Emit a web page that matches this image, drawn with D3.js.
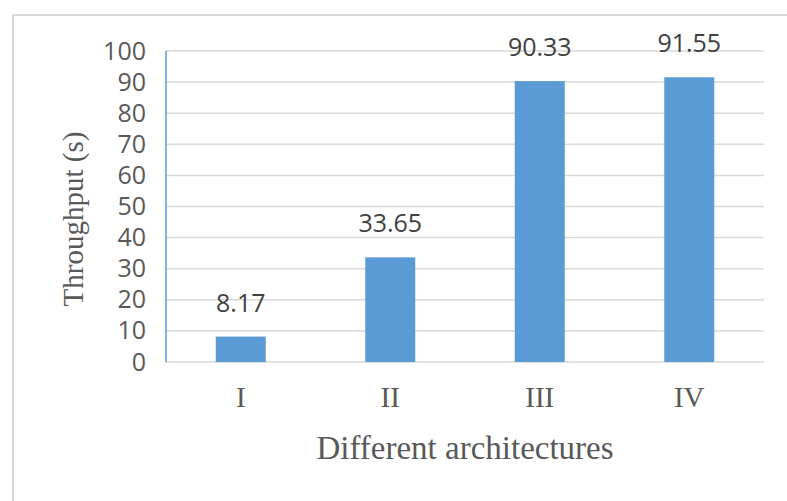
<!DOCTYPE html>
<html>
<head>
<meta charset="utf-8">
<script src="https://cdn.jsdelivr.net/npm/d3@7/dist/d3.min.js"></script>
<style>
  html, body { margin: 0; padding: 0; background: #fff; }
  svg { display: block; }
</style>
</head>
<body>
<svg id="chart" width="787" height="501"></svg>
<script>
// Throughput per architecture
const categories = ["I", "II", "III", "IV"];
const throughput = [8.17, 33.65, 90.33, 91.55];
const yTicks = [0, 10, 20, 30, 40, 50, 60, 70, 80, 90, 100];

const svg = d3.select("#chart");
const W = 787, H = 501;
const plot = { left: 166, right: 764, top: 51, bottom: 362 };

// outer chart border
svg.append("rect")
  .attr("x", 13).attr("y", 15)
  .attr("width", W + 20).attr("height", H + 20)
  .attr("fill", "#fff")
  .attr("stroke", "#d9d9d9").attr("stroke-width", 2);

const x = d3.scaleBand()
  .domain(categories)
  .range([plot.left, plot.right])
  .paddingInner(0.6656)
  .paddingOuter(0.3328);

const y = d3.scaleLinear()
  .domain([0, 100])
  .range([plot.bottom, plot.top]);

// horizontal gridlines
svg.append("g")
  .selectAll("line")
  .data(yTicks)
  .join("line")
  .attr("x1", plot.left).attr("x2", plot.right)
  .attr("y1", d => y(d)).attr("y2", d => y(d))
  .attr("stroke", "#d9d9d9").attr("stroke-width", 1.5);

// y tick labels
const yAxis = d3.axisLeft(y).tickValues(yTicks).tickSize(0).tickPadding(20);
const gy = svg.append("g")
  .attr("transform", `translate(${plot.left},0)`)
  .call(yAxis);
gy.select(".domain").remove();
gy.selectAll("text")
  .attr("font-family", "'Open Sans', sans-serif")
  .attr("font-size", 25)
  .attr("fill", "#595959");

// bars
svg.append("g")
  .selectAll("rect")
  .data(throughput)
  .join("rect")
  .attr("x", (d, i) => x(categories[i]))
  .attr("y", d => y(d))
  .attr("width", x.bandwidth())
  .attr("height", d => y(0) - y(d))
  .attr("fill", "#5b9bd5");

// value labels
svg.append("g")
  .selectAll("text")
  .data(throughput)
  .join("text")
  .attr("x", (d, i) => x(categories[i]) + x.bandwidth() / 2)
  .attr("y", d => y(d) - 25)
  .attr("text-anchor", "middle")
  .attr("font-family", "'Open Sans', sans-serif")
  .attr("font-size", 25)
  .attr("fill", "#404040")
  .text(d => d.toFixed(2));

// vertical axis line
svg.append("line")
  .attr("x1", plot.left).attr("x2", plot.left)
  .attr("y1", y(100)).attr("y2", y(0))
  .attr("stroke", "#5b9bd5").attr("stroke-width", 1.5);

// category labels
const xAxis = d3.axisBottom(x).tickSize(0).tickPadding(0);
const gx = svg.append("g")
  .attr("transform", `translate(0,${plot.bottom})`)
  .call(xAxis);
gx.select(".domain").remove();
gx.selectAll("text")
  .attr("dy", null)
  .attr("y", 45)
  .attr("font-family", "'Liberation Serif', 'Times New Roman', serif")
  .attr("font-size", 29)
  .attr("fill", "#595959");

// axis titles
svg.append("text")
  .attr("x", (plot.left + plot.right) / 2)
  .attr("y", 459)
  .attr("text-anchor", "middle")
  .attr("font-family", "'Liberation Serif', 'Times New Roman', serif")
  .attr("font-size", 33)
  .attr("fill", "#595959")
  .text("Different architectures");

svg.append("text")
  .attr("transform", `translate(83,${219}) rotate(-90)`)
  .attr("text-anchor", "middle")
  .attr("font-family", "'Liberation Serif', 'Times New Roman', serif")
  .attr("font-size", 29)
  .attr("fill", "#595959")
  .text("Throughput (s)");
</script>
</body>
</html>
